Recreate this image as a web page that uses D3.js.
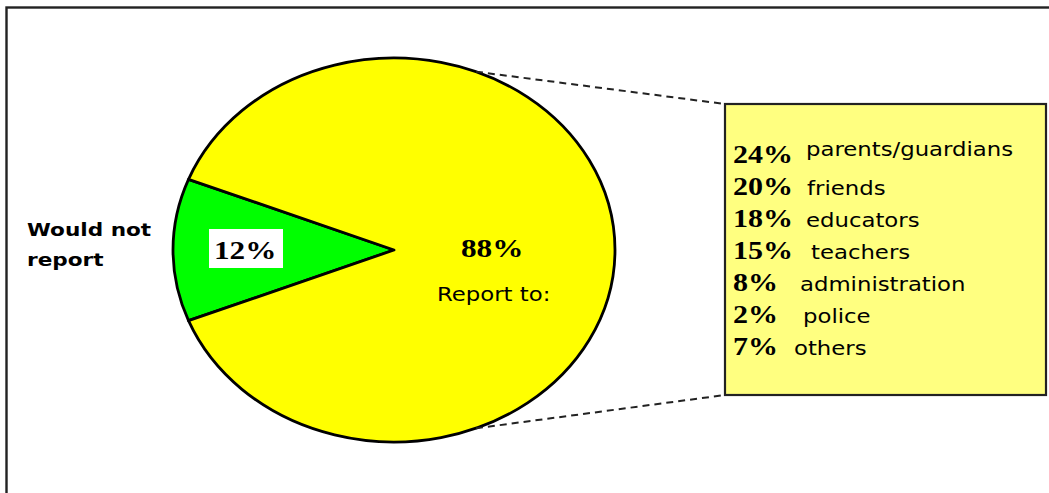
<!DOCTYPE html>
<html>
<head>
<meta charset="utf-8">
<script src="https://cdn.jsdelivr.net/npm/d3@7"></script>
<style>
  body { margin: 0; background: #fff; }
  svg { display: block; }
</style>
</head>
<body>
<svg id="chart" width="1049" height="493"></svg>
<script>
// main split
var slices = ["Would not report", "Report to"];
var sliceValues = [12, 88];
var sliceColors = ["#00ff00", "#ffff00"];

// breakdown of "Report to"
var reportPct = [24, 20, 18, 15, 8, 2, 7];
var reportTo = ["parents/guardians", "friends", "educators", "teachers", "administration", "police", "others"];
// small horizontal nudges seen in the picture
var labelShift = [0, 1, 0, 5, -6, -3, -12];

var svg = d3.select("#chart"),
  width = +svg.attr("width"),
  height = +svg.attr("height");

var sx = 1.2; // picture is stretched sideways

// frame
svg.append("rect")
  .attr("x", 6.5).attr("y", 7.5)
  .attr("width", width + 20).attr("height", height + 20)
  .attr("fill", "none")
  .attr("stroke", "#222")
  .attr("stroke-width", 2.4);

var cx = 394, cy = 250, rx = 221, ry = 192;

var pie = d3.pie().sort(null)
  .startAngle(1.5 * Math.PI - Math.PI * sliceValues[0] / 100)
  .endAngle(3.5 * Math.PI - Math.PI * sliceValues[0] / 100);

var arc = d3.arc().innerRadius(0).outerRadius(rx);
var arcs = pie(sliceValues);

var pieG = svg.append("g")
  .attr("transform", "translate(" + cx + "," + cy + ") scale(1," + (ry / rx) + ")");

pieG.selectAll("path")
  .data(arcs)
  .enter().append("path")
  .attr("d", arc)
  .attr("fill", function (d, i) { return sliceColors[i]; })
  .attr("stroke", "#000")
  .attr("stroke-width", 2.8)
  .attr("stroke-linejoin", "round")
  .attr("vector-effect", "non-scaling-stroke");

// box
var box = { x: 725, y: 104, w: 321, h: 291 };

// dashed connectors from ellipse to box corners
function onEllipse(a) {
  return [cx + rx * Math.sin(a), cy - ry * Math.cos(a)];
}
var p1 = onEllipse(0.38), p2 = onEllipse(Math.PI - 0.38);
[[p1, box.y], [p2, box.y + box.h]].forEach(function (c) {
  svg.append("line")
    .attr("x1", c[0][0]).attr("y1", c[0][1])
    .attr("x2", box.x).attr("y2", c[1])
    .attr("stroke", "#222").attr("stroke-width", 2)
    .attr("stroke-dasharray", "7,5");
});

svg.append("rect")
  .attr("x", box.x).attr("y", box.y)
  .attr("width", box.w).attr("height", box.h)
  .attr("fill", "#ffff80")
  .attr("stroke", "#222")
  .attr("stroke-width", 2.2);

function stretchedText(x, y, txt) {
  return svg.append("text")
    .attr("transform", "translate(" + x + "," + y + ") scale(" + sx + ",1)")
    .text(txt);
}

var sans = "DejaVu Sans, Verdana, sans-serif";
var serif = "Liberation Serif, Times New Roman, serif";

// "Would not report"
stretchedText(27, 236, "Would not")
  .attr("font-family", sans).attr("font-weight", "bold").attr("font-size", 18);
stretchedText(27, 266, "report")
  .attr("font-family", sans).attr("font-weight", "bold").attr("font-size", 18);

// 12% label
svg.append("rect")
  .attr("x", 209).attr("y", 229)
  .attr("width", 74).attr("height", 39)
  .attr("fill", "#fff");
stretchedText(214, 259, sliceValues[0] + "%")
  .attr("font-family", serif).attr("font-weight", "bold").attr("font-size", 26);

// 88% label
stretchedText(461, 257, sliceValues[1] + "%")
  .attr("font-family", serif).attr("font-weight", "bold").attr("font-size", 26);
stretchedText(437, 301, slices[1] + ":")
  .attr("font-family", sans).attr("font-size", 19);

// breakdown rows
var rowY = d3.scalePoint().domain(d3.range(reportTo.length)).range([163, 355]);

reportTo.forEach(function (name, i) {
  var y = rowY(i);
  stretchedText(733, y, reportPct[i] + "%")
    .attr("font-family", serif).attr("font-weight", "bold").attr("font-size", 25);
  stretchedText(806 + labelShift[i], i === 0 ? y - 7 : y, name)
    .attr("font-family", sans).attr("font-size", 19);
});
</script>
</body>
</html>
